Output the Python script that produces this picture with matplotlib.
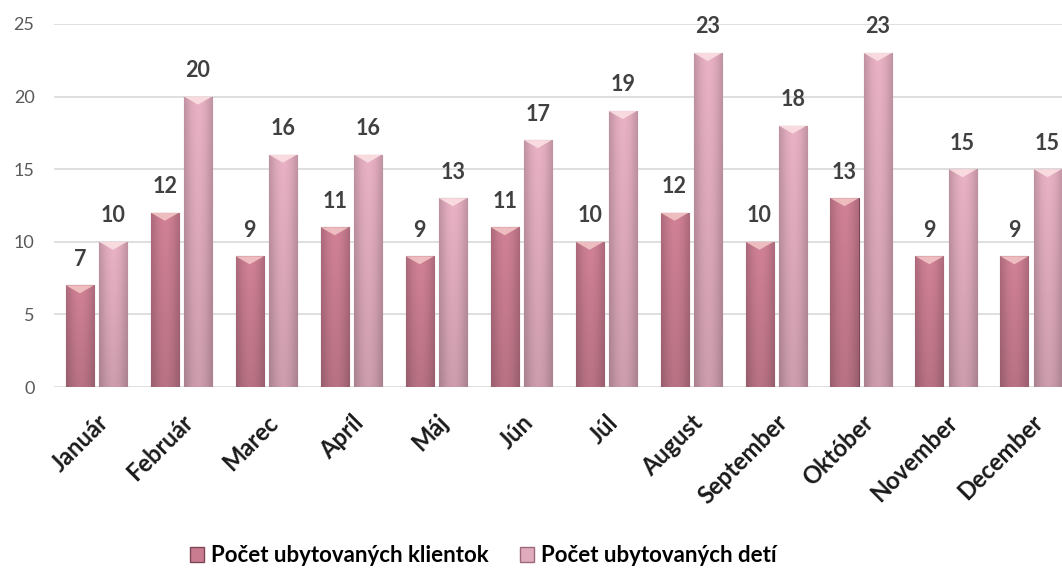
import numpy as np
import matplotlib.pyplot as plt
from matplotlib.patches import Patch, Polygon
from matplotlib.colors import to_rgb

plt.rcParams['font.family'] = ['Lato', 'DejaVu Sans']

months = ['Január', 'Február', 'Marec', 'Apríl', 'Máj', 'Jún', 'Júl',
          'August', 'September', 'Október', 'November', 'December']
klienti = [7, 12, 9, 11, 9, 11, 10, 12, 10, 13, 9, 9]
deti = [10, 20, 16, 16, 13, 17, 19, 23, 18, 23, 15, 15]
series_names = ['Počet ubytovaných klientok', 'Počet ubytovaných detí']
colors = ['#c97c90', '#e0abbd']
edges = ['#7e4556', '#9a6a7b']
tops = ['#f2c4c4', '#fbe0e3']

fig = plt.figure(figsize=(10.62, 5.79), dpi=100)
ax = fig.add_axes([0.0508, 0.3316, 0.960, 0.627])


def shade(color):
    # little bevel gradient: darker at the sides and toward the bottom
    u = np.linspace(0, 1, 24)
    vv = np.linspace(1, 0, 60)
    h = 0.86 + 0.18 * np.sin(np.pi * u)
    v = 0.88 + 0.12 * vv
    f = np.clip(v[:, None] * h[None, :], 0, 1.1)
    img = np.clip(np.array(to_rgb(color))[None, None, :] * f[:, :, None], 0, 1)
    return img


x = np.arange(len(months))
w = 0.33
off = 0.195
for vals, dx, c, e, t in [(klienti, -off, colors[0], edges[0], tops[0]),
                          (deti, off, colors[1], edges[1], tops[1])]:
    bars = ax.bar(x + dx, vals, width=w, color=c, edgecolor=e, linewidth=0.8, zorder=3)
    img = shade(c)
    for b, v in zip(bars, vals):
        x0, x1 = b.get_x(), b.get_x() + b.get_width()
        im = ax.imshow(img, extent=[x0, x1, 0, v], aspect='auto', zorder=3.2)
        im.set_clip_path(b)
        ax.add_patch(Polygon([(x0, v), (x1, v), ((x0 + x1) / 2, v - 0.55)],
                             closed=True, facecolor=t, edgecolor='none', alpha=0.9, zorder=3.4))
        ax.text((x0 + x1) / 2, v + 1.35, str(v), ha='center', va='baseline',
                fontsize=15.5, fontweight='bold', color='#404040')

ax.set_xlim(-0.5, len(months) - 0.5)
ax.set_ylim(0, 25)
ax.set_yticks([0, 5, 10, 15, 20, 25])
ax.grid(axis='y', color='#d9d9d9', linewidth=1.2, zorder=0)
ax.set_axisbelow(True)
for s in ax.spines.values():
    s.set_visible(False)
ax.tick_params(axis='both', length=0)
ax.tick_params(axis='y', labelsize=13, labelcolor='#595959', pad=14)
ax.set_xticks(x)
ax.set_xticklabels(months, rotation=45, ha='right', rotation_mode='anchor',
                   fontsize=17, fontweight='bold', color='#1a1a1a')
ax.tick_params(axis='x', pad=17)

handles = [Patch(facecolor=colors[0], edgecolor=edges[0]), Patch(facecolor=colors[1], edgecolor=edges[1])]
fig.legend(handles, series_names, loc='center', bbox_to_anchor=(0.455, 0.04), ncol=2, frameon=False,
           prop={'size': 16, 'weight': 'bold'}, handlelength=0.65, handleheight=0.65,
           handletextpad=0.3, columnspacing=1.4)

fig.savefig('out.png', dpi=100)
